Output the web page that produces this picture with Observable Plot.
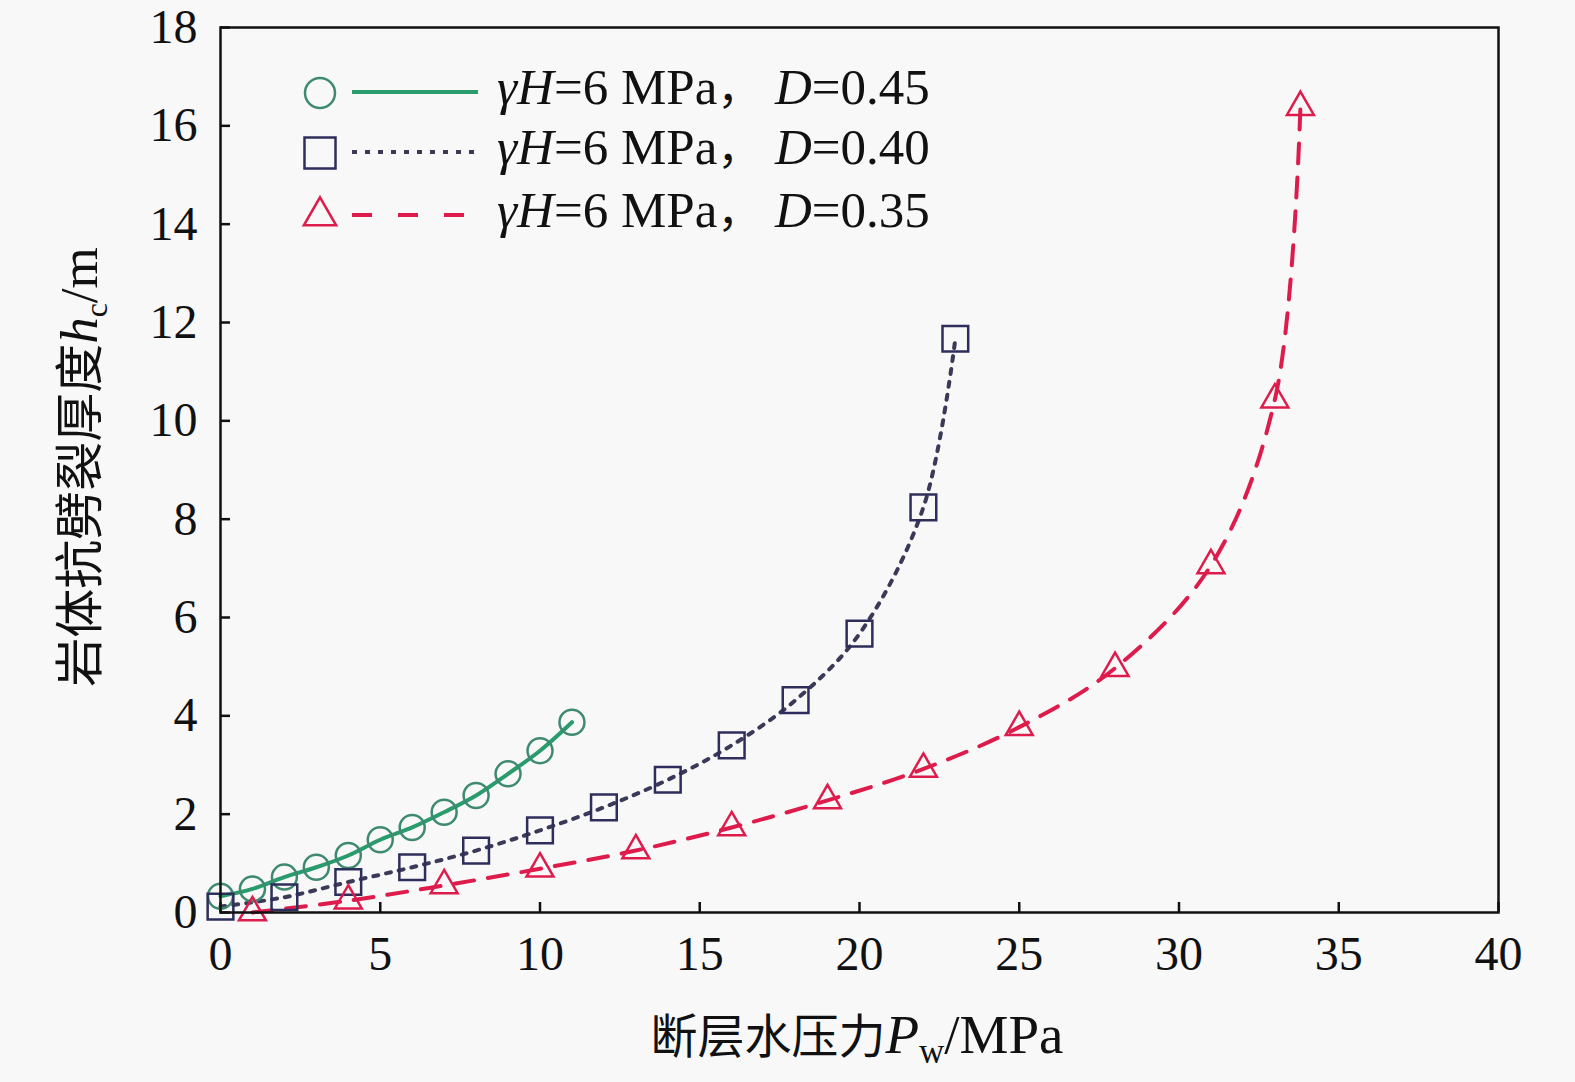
<!DOCTYPE html>
<html>
<head>
<meta charset="utf-8">
<script src="https://cdn.jsdelivr.net/npm/d3@7"></script>
<script src="https://cdn.jsdelivr.net/npm/@observablehq/plot@0.6"></script>
<style>
  html, body { margin: 0; padding: 0; background: #f8f8f8; }
  #chart { width: 1575px; height: 1082px; }
</style>
</head>
<body>
<div id="chart"></div>
<script>
// ---- data ----
const xTicks = [0, 5, 10, 15, 20, 25, 30, 35, 40];
const yTicks = [0, 2, 4, 6, 8, 10, 12, 14, 16, 18];

const circX = [0, 1, 2, 3, 4, 5, 6, 7, 8, 9, 10, 11];
const circY = [0.33, 0.48, 0.72, 0.92, 1.16, 1.48, 1.73, 2.04, 2.38, 2.82, 3.29, 3.87];

const sqX = [0, 2, 4, 6, 8, 10, 12, 14, 16, 18, 20, 22, 23];
const sqY = [0.12, 0.31, 0.62, 0.92, 1.26, 1.67, 2.14, 2.70, 3.40, 4.32, 5.67, 8.24, 11.67];

const triX = [1, 4, 7, 10, 13, 16, 19, 22, 25, 28, 31, 33, 33.8];
const triY = [0.0, 0.24, 0.55, 0.89, 1.26, 1.73, 2.28, 2.92, 3.77, 4.97, 7.06, 10.43, 16.38];

const seriesLabels = ["D=0.45", "D=0.40", "D=0.35"];

const toRows = (xs, ys) => xs.map((x, i) => ({x, y: ys[i]}));
const circ = toRows(circX, circY);
const sq = toRows(sqX, sqY);
const tri = toRows(triX, triY);

const GREEN_LINE = "#2a9b6c", GREEN_MARK = "#3e8a70";
const NAVY_LINE = "#3a3a58", NAVY_MARK = "#2e2e5c";
const RED = "#de1c4c";
const serif = "'Liberation Serif', 'Times New Roman', serif";
const cjk = "'Noto Sans CJK SC', sans-serif";

const chart = Plot.plot({
  width: 1575,
  height: 1082,
  marginLeft: 220,
  marginRight: 77,
  marginTop: 27,
  marginBottom: 170,
  x: {domain: [0, 40]},
  y: {domain: [0, 18]},
  style: {background: "#f8f8f8", fontFamily: serif, color: "#111"},
  marks: [
    Plot.axisX({ticks: xTicks, tickSize: -10, tickPadding: 33, fontSize: 48, label: null, tickFormat: d => String(d), strokeWidth: 2.5}),
    Plot.axisY({ticks: yTicks, tickSize: -10, tickPadding: 33, fontSize: 48, label: null, tickFormat: d => String(d), strokeWidth: 2.5}),
    Plot.line(circ, {x: "x", y: "y", curve: "catmull-rom", stroke: GREEN_LINE, strokeWidth: 4}),
    Plot.line(sq, {x: "x", y: "y", curve: "catmull-rom", stroke: NAVY_LINE, strokeWidth: 4, strokeDasharray: "5,8"}),
    Plot.line(tri, {x: "x", y: "y", curve: "catmull-rom", stroke: RED, strokeWidth: 4, strokeDasharray: "20,14"}),
    Plot.dot(circ, {x: "x", y: "y", r: 12.5, stroke: GREEN_MARK, strokeWidth: 2.5, fill: "none"}),
    Plot.dot(sq, {x: "x", y: "y", symbol: "square", r: 14.5, stroke: NAVY_MARK, strokeWidth: 2.5, fill: "none"}),
    Plot.dot(tri, {x: "x", y: "y", symbol: "triangle", r: 10, stroke: RED, strokeWidth: 2.5, fill: "none"}),
    Plot.frame({stroke: "#111", strokeWidth: 2.5})
  ]
});

document.getElementById("chart").appendChild(chart);

const svg = d3.select(chart);

// x axis title
const xt = svg.append("text")
  .attr("x", 857).attr("y", 1053)
  .attr("text-anchor", "middle")
  .attr("fill", "#111");
xt.append("tspan").attr("font-family", cjk).attr("font-size", 47).text("断层水压力");
xt.append("tspan").attr("font-family", serif).attr("font-size", 55).attr("font-style", "italic").text("P");
xt.append("tspan").attr("font-family", serif).attr("font-size", 35).attr("dy", 10).text("w");
xt.append("tspan").attr("font-family", serif).attr("font-size", 55).attr("dy", -10).text("/MPa");

// y axis title
const yt = svg.append("text")
  .attr("transform", "translate(97,467) rotate(-90)")
  .attr("text-anchor", "middle")
  .attr("fill", "#111");
yt.append("tspan").attr("font-family", cjk).attr("font-size", 49).text("岩体抗劈裂厚度");
yt.append("tspan").attr("font-family", serif).attr("font-size", 53).attr("font-style", "italic").text("h");
yt.append("tspan").attr("font-family", serif).attr("font-size", 32).attr("dy", 10).text("c");
yt.append("tspan").attr("font-family", serif).attr("font-size", 53).attr("dy", -10).text("/m");

// legend
const legendRows = [
  {cy: 93, symbol: d3.symbolCircle, stroke: GREEN_MARK, line: GREEN_LINE, dash: null, r: 15, label: seriesLabels[0]},
  {cy: 153, symbol: d3.symbolSquare, stroke: NAVY_MARK, line: NAVY_LINE, dash: "5,8", r: 17.5, label: seriesLabels[1]},
  {cy: 216, symbol: d3.symbolTriangle, stroke: RED, line: RED, dash: "20,26", r: 12, label: seriesLabels[2]}
];
const lg = svg.append("g").attr("text-anchor", "start");
legendRows.forEach(row => {
  lg.append("path")
    .attr("d", d3.symbol(row.symbol, Math.PI * row.r * row.r)())
    .attr("transform", `translate(320,${row.cy})`)
    .attr("fill", "none").attr("stroke", row.stroke).attr("stroke-width", 2.5);
  lg.append("line")
    .attr("x1", 352).attr("x2", 478).attr("y1", row.cy - 1).attr("y2", row.cy - 1)
    .attr("stroke", row.line).attr("stroke-width", 4)
    .attr("stroke-dasharray", row.dash);
  const t = lg.append("text").attr("x", 497).attr("y", row.cy + 11)
    .attr("text-anchor", "start")
    .attr("font-family", serif).attr("font-size", 51).attr("fill", "#111");
  t.append("tspan").attr("font-style", "italic").text("γH");
  t.append("tspan").text("=6 MPa");
  t.append("tspan").attr("font-family", cjk).attr("font-size", 44).text("，");
  const [name, val] = row.label.split("=");
  t.append("tspan").attr("x", 775).attr("font-style", "italic").text(name);
  t.append("tspan").text("=" + val);
});
</script>
</body>
</html>
